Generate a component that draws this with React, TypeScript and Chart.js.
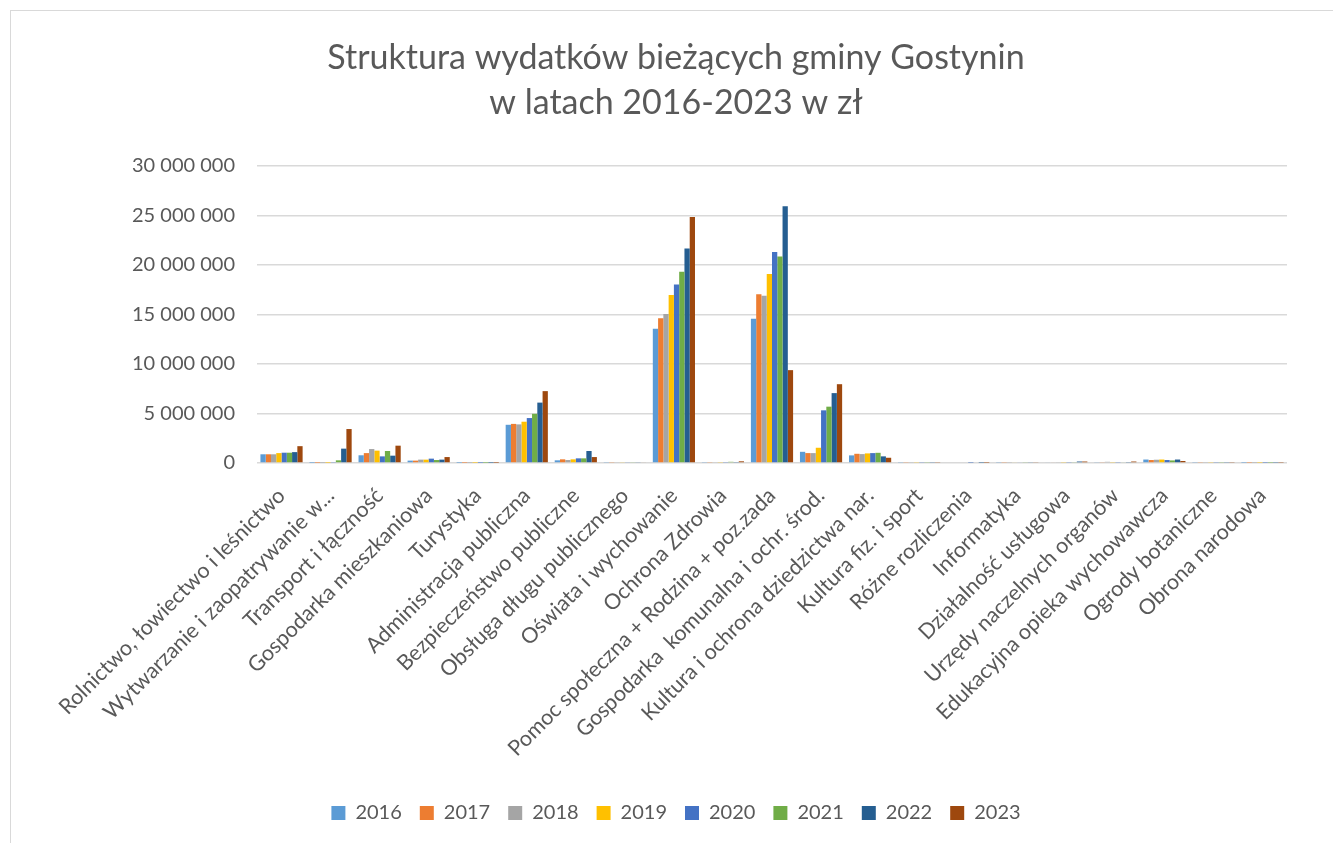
import React, { useEffect, useRef } from "react";
import { Chart, registerables } from "chart.js";

Chart.register(...registerables);

const categories = [
  "Rolnictwo, łowiectwo i leśnictwo",
  "Wytwarzanie i zaopatrywanie w...",
  "Transport i łączność",
  "Gospodarka mieszkaniowa",
  "Turystyka",
  "Administracja publiczna",
  "Bezpieczeństwo publiczne",
  "Obsługa długu publicznego",
  "Oświata i wychowanie",
  "Ochrona Zdrowia",
  "Pomoc społeczna + Rodzina + poz.zada",
  "Gospodarka  komunalna i ochr. środ.",
  "Kultura i ochrona dziedzictwa nar.",
  "Kultura fiz. i sport",
  "Różne rozliczenia",
  "Informatyka",
  "Działalność usługowa",
  "Urzędy naczelnych organów",
  "Edukacyjna opieka wychowawcza",
  "Ogrody botaniczne",
  "Obrona narodowa",
];

const years = ["2016", "2017", "2018", "2019", "2020", "2021", "2022", "2023"];

const v2016 = [880000, 20000, 780000, 240000, 20000, 3860000, 270000, 100000, 13550000, 100000, 14560000, 1130000, 770000, 100000, 0, 50000, 80000, 60000, 350000, 50000, 30000];
const v2017 = [880000, 20000, 1000000, 240000, 20000, 3950000, 370000, 100000, 14630000, 100000, 17040000, 1000000, 930000, 100000, 0, 50000, 80000, 60000, 300000, 50000, 30000];
const v2018 = [880000, 20000, 1410000, 340000, 20000, 3900000, 300000, 90000, 15060000, 90000, 16900000, 1000000, 900000, 100000, 0, 50000, 90000, 120000, 330000, 50000, 30000];
const v2019 = [1000000, 20000, 1250000, 340000, 20000, 4170000, 370000, 90000, 16970000, 100000, 19080000, 1540000, 970000, 100000, 0, 70000, 100000, 100000, 350000, 50000, 30000];
const v2020 = [1040000, 50000, 670000, 440000, 20000, 4540000, 470000, 90000, 18040000, 100000, 21320000, 5320000, 1000000, 100000, 30000, 70000, 100000, 100000, 300000, 50000, 30000];
const v2021 = [1040000, 270000, 1210000, 300000, 20000, 4970000, 470000, 90000, 19320000, 120000, 20850000, 5690000, 1030000, 100000, 0, 60000, 90000, 70000, 260000, 50000, 30000];
const v2022 = [1100000, 1450000, 740000, 340000, 20000, 6100000, 1210000, 90000, 21660000, 100000, 25940000, 7060000, 670000, 100000, 30000, 60000, 150000, 100000, 350000, 100000, 40000];
const v2023 = [1700000, 3430000, 1750000, 600000, 20000, 7260000, 600000, 80000, 24840000, 170000, 9380000, 7960000, 530000, 100000, 30000, 60000, 150000, 150000, 200000, 50000, 40000];

const seriesValues = [v2016, v2017, v2018, v2019, v2020, v2021, v2022, v2023];
const colors = ["#5B9BD5", "#ED7D31", "#A5A5A5", "#FFC000", "#4472C4", "#70AD47", "#255E91", "#9E480E"];

const titleLines = ["Struktura wydatków bieżących gminy Gostynin", "w latach 2016-2023 w zł"];

const fmt = (v: number) => String(v).replace(/\B(?=(\d{3})+(?!\d))/g, " ");

const FONT = "Lato, 'Open Sans', sans-serif";
const TEXT = "#595959";

export default function App() {
  const ref = useRef<HTMLCanvasElement | null>(null);
  useEffect(() => {
    if (!ref.current) return;
    const chart = new Chart(ref.current, {
      type: "bar",
      data: {
        labels: categories,
        datasets: years.map((y, i) => ({
          label: y,
          data: seriesValues[i],
          backgroundColor: colors[i],
          borderWidth: 0,
          categoryPercentage: 0.86,
          barPercentage: 1,
        })),
      },
      options: {
        responsive: false,
        animation: false,
        layout: { padding: { left: 65, right: 46, top: 10, bottom: 10 } },
        plugins: {
          title: {
            display: true,
            text: titleLines,
            color: TEXT,
            font: { family: FONT, size: 34, weight: "normal", lineHeight: 45 / 34 },
            padding: { top: 26, bottom: 40 },
          },
          legend: {
            position: "bottom",
            labels: {
              color: TEXT,
              font: { family: FONT, size: 20 },
              boxWidth: 14,
              boxHeight: 14,
              padding: 18,
            },
          },
          tooltip: { enabled: false },
        },
        scales: {
          x: {
            grid: { display: false, drawTicks: false },
            border: { display: false },
            ticks: {
              color: TEXT,
              font: { family: FONT, size: 21.5 },
              minRotation: 45,
              maxRotation: 45,
              autoSkip: false,
              padding: 20,
            },
            afterFit: (s: any) => {
              s.height = 322;
              s.paddingLeft = 0;
              s.paddingRight = 0;
            },
          },
          y: {
            min: 0,
            max: 30000000,
            grid: { color: "#d9d9d9", lineWidth: 1.5, drawTicks: false },
            border: { display: false },
            ticks: {
              stepSize: 5000000,
              color: TEXT,
              font: { family: FONT, size: 20 },
              padding: 22,
              callback: (v: any) => fmt(Number(v)),
            },
            afterFit: (s: any) => {
              s.width = 192;
            },
          },
        },
      },
    });
    return () => chart.destroy();
  }, []);

  return (
    <div style={{ position: "fixed", left: 0, top: 0, width: 1333, height: 843, background: "#fff", overflow: "hidden" }}>
      <div
        style={{
          position: "absolute",
          left: 10,
          top: 10,
          width: 1340,
          height: 850,
          border: "1.5px solid #d9d9d9",
          boxSizing: "border-box",
        }}
      />
      <canvas ref={ref} width={1333} height={843} style={{ position: "absolute", left: 0, top: 0 }} />
    </div>
  );
}
